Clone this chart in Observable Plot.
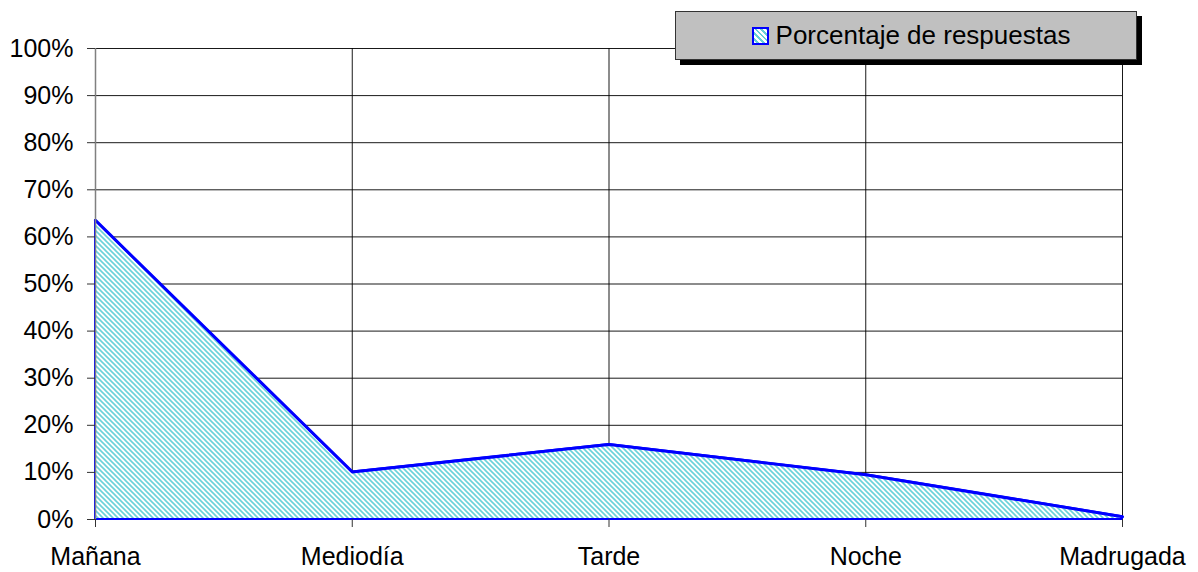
<!DOCTYPE html>
<html>
<head>
<meta charset="utf-8">
<script src="https://cdn.jsdelivr.net/npm/d3@7"></script>
<script src="https://cdn.jsdelivr.net/npm/@observablehq/plot@0.6"></script>
<style>
  body { margin: 0; background: white; }
  #wrap { position: relative; width: 1198px; height: 572px; font-family: "Liberation Sans", Arial, sans-serif; }
  #legend {
    position: absolute; left: 675px; top: 11px; width: 462px; height: 49px;
    background: #c0c0c0; border: 1px solid #333; box-shadow: 5px 5px 0 #000;
    display: flex; align-items: center; justify-content: center; box-sizing: border-box;
    font-size: 26px; color: #000; padding-left: 10px;
  }
  #legend .sw { width: 17px; height: 18px; border: 2px solid #0000ff; margin-right: 7px; box-sizing: border-box;
    background: repeating-linear-gradient(45deg, #fff 0 2px, #66d0d8 2px 4px); }
</style>
</head>
<body>
<div id="wrap"><div id="legend"><span class="sw"></span><span>Porcentaje de respuestas</span></div></div>
<script>
const categories = ["Mañana", "Mediodía", "Tarde", "Noche", "Madrugada"];
const values = [0.635, 0.101, 0.159, 0.095, 0.006];
const yTicks = [0, 0.1, 0.2, 0.3, 0.4, 0.5, 0.6, 0.7, 0.8, 0.9, 1.0];

const idx = categories.map((_, i) => i);
const data = categories.map((c, i) => ({i, c, v: values[i]}));

const chart = Plot.plot({
  width: 1198, height: 572,
  marginLeft: 95, marginRight: 76, marginTop: 48, marginBottom: 53,
  style: {fontFamily: "'Liberation Sans', Arial, sans-serif", fontSize: "25px", color: "black", background: "white", overflow: "visible"},
  x: {domain: [0, 4]},
  y: {domain: [0, 1]},
  marks: [
    Plot.ruleY(yTicks, {stroke: "black", strokeWidth: 1, strokeOpacity: 0.9}),
    Plot.ruleX(idx.slice(1), {stroke: "black", strokeWidth: 1, strokeOpacity: 0.9}),
    Plot.areaY(data, {x: "i", y: "v", fill: "url(#hatch)", stroke: "#0000ff", strokeWidth: 2}),
    Plot.lineY(data, {x: "i", y: "v", stroke: "#0000ff", strokeWidth: 3}),
    Plot.ruleX([0], {stroke: "#808080", strokeWidth: 1.5}),
    Plot.axisY({ticks: yTicks, tickFormat: d => Math.round(d * 100) + "%", tickSize: 8, tickPadding: 14, label: null, fontSize: 25, stroke: "#333"}),
    Plot.axisX({ticks: idx, tickFormat: i => categories[i], tickSize: 8, tickPadding: 20, label: null, fontSize: 25, stroke: "#333"})
  ]
});

const ns = "http://www.w3.org/2000/svg";
const defs = document.createElementNS(ns, "defs");
const pat = document.createElementNS(ns, "pattern");
pat.setAttribute("id", "hatch");
pat.setAttribute("patternUnits", "userSpaceOnUse");
pat.setAttribute("width", "5");
pat.setAttribute("height", "5");
const bg = document.createElementNS(ns, "rect");
bg.setAttribute("width", "5"); bg.setAttribute("height", "5"); bg.setAttribute("fill", "white");
const p = document.createElementNS(ns, "path");
p.setAttribute("d", "M-1,-1 L6,6 M4,-1 L6,1 M-1,4 L1,6");
p.setAttribute("stroke", "#6ad2da");
p.setAttribute("stroke-width", "1.6");
pat.appendChild(bg); pat.appendChild(p);
defs.appendChild(pat);
chart.insertBefore(defs, chart.firstChild);

document.getElementById("wrap").insertBefore(chart, document.getElementById("legend"));
chart.style.position = "absolute";
chart.style.left = "0"; chart.style.top = "0";
</script>
</body>
</html>
